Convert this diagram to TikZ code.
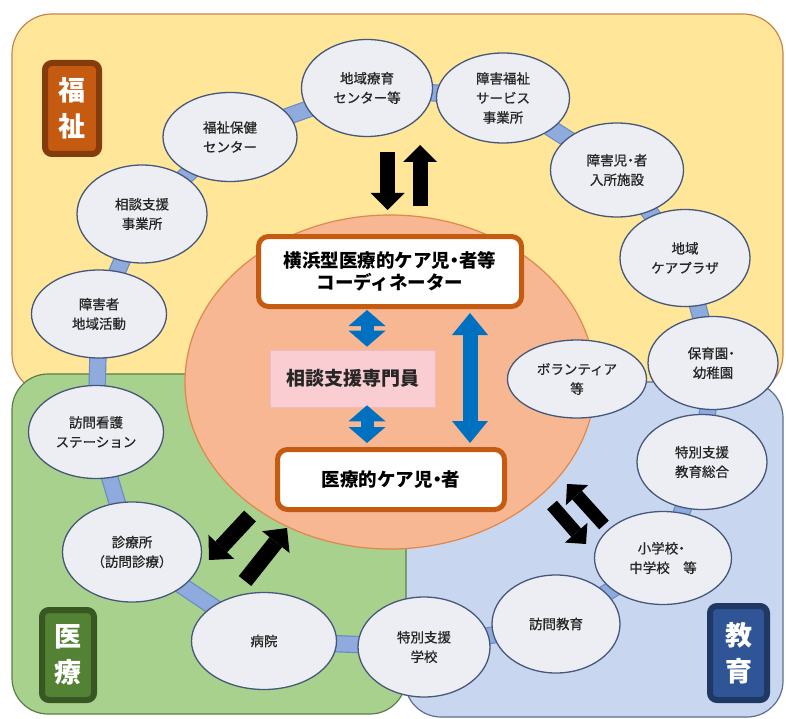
\documentclass[tikz,border=0pt]{standalone}
\usepackage{fontspec}
\newfontfamily\jp{Noto Sans CJK JP}
\newfontfamily\jpm[FakeBold=0.7]{Noto Sans CJK JP}
\usetikzlibrary{shapes.geometric,arrows.meta}
\definecolor{yfill}{HTML}{FFE699}
\definecolor{ydraw}{HTML}{C8844A}
\definecolor{gfill}{HTML}{A9D18E}
\definecolor{gdraw}{HTML}{5A7F45}
\definecolor{bfill}{HTML}{C8D7EF}
\definecolor{bdraw}{HTML}{5B6F8F}
\definecolor{ofill}{HTML}{F8B793}
\definecolor{odraw}{HTML}{E0874C}
\definecolor{ellfill}{HTML}{EDEEF3}
\definecolor{elldraw}{HTML}{46587A}
\definecolor{barfill}{HTML}{8FAADC}
\definecolor{bardraw}{HTML}{6A8BC8}
\definecolor{boxdraw}{HTML}{C55A11}
\definecolor{pinkfill}{HTML}{F9CDD2}
\definecolor{pinkdraw}{HTML}{F2B8BF}
\definecolor{barrow}{HTML}{0070C0}
\definecolor{elltext}{HTML}{262626}
\definecolor{fkout}{HTML}{843C0C}
\definecolor{fkin}{HTML}{C55A11}
\definecolor{iryout}{HTML}{385723}
\definecolor{iryin}{HTML}{548235}
\definecolor{kyout}{HTML}{203864}
\definecolor{kyin}{HTML}{2F5597}
\newcommand\nd{\kern-0.25em・\kern-0.25em}
\newcommand\ndr{\kern-0.25em・}
\pgfdeclarelayer{bg}
\pgfdeclarelayer{bars}
\pgfsetlayers{bg,bars,main}
\begin{document}
\begin{tikzpicture}[x=1pt,y=-1pt,
  ell/.style={ellipse,draw=elldraw,fill=ellfill,line width=1.3pt,inner sep=0pt,align=center,
    text=elltext,font=\jpm\fontsize{13.5}{19.5}\selectfont},
  bar/.style={draw=bardraw,line width=1.2pt,double=barfill,double distance=15pt},
  mainbox/.style={draw=boxdraw,line width=5pt,fill=white,rounded corners=10pt,align=center,
    inner sep=0pt,text=black,font=\jp\bfseries\fontsize{18.5}{22.5}\selectfont},
  tag/.style={rounded corners=7pt,line width=6pt,align=center,text=white,inner sep=0pt,
    font=\jp\bfseries\fontsize{27}{36}\selectfont},
  bdarrow/.style={barrow,line width=13pt,{Triangle[width=37pt,length=16pt,line width=0pt]}-{Triangle[width=37pt,length=16pt,line width=0pt]}},
  blongarrow/.style={barrow,line width=15pt,{Triangle[width=36pt,length=22pt,line width=0pt]}-{Triangle[width=36pt,length=22pt,line width=0pt]}},
  karrow/.style={black,line width=15pt,-{Triangle[width=34pt,length=17pt,line width=0pt]}},
  karrowb/.style={black,line width=16pt,-{Triangle[width=35pt,length=18pt,line width=0pt]}},
  karrows/.style={black,line width=13pt,-{Triangle[width=30pt,length=15pt,line width=0pt]}}
]
\useasboundingbox (0,0) rectangle (786,719);
\begin{pgfonlayer}{bg}
\fill[white] (0,0) rectangle (786,719);
\draw[fill=yfill,draw=ydraw,line width=1.2pt,rounded corners=40pt] (12,14) rectangle (783,394);
\draw[fill=bfill,draw=bdraw,line width=1.2pt,rounded corners=36pt] (405,382) rectangle (783,717);
\draw[fill=gfill,draw=gdraw,line width=1.2pt,rounded corners=36pt] (12,374) rectangle (406,714);
\draw[fill=ofill,draw=odraw,line width=1.2pt] (390,382) ellipse [x radius=205, y radius=167];
\end{pgfonlayer}

% ellipses
\node[ell,minimum width=131pt,minimum height=97pt] (e1) at (367,88) {地域療育\\センター等};
\node[ell,minimum width=134pt,minimum height=89pt] (e2) at (230,137) {福祉保健\\センター};
\node[ell,minimum width=130pt,minimum height=98pt] (e3) at (142,214) {相談支援\\事業所};
\node[ell,minimum width=135pt,minimum height=88pt] (e4) at (99,314) {障害者\\地域活動};
\node[ell,minimum width=133pt,minimum height=90pt] (e5) at (503,98) {障害福祉\\サービス\\事業所};
\node[ell,minimum width=133pt,minimum height=94pt] (e6) at (617,170) {障害児\nd 者\\入所施設};
\node[ell,minimum width=130pt,minimum height=97pt] (e7) at (685,258) {地域\\ケアプラザ};
\node[ell,minimum width=130pt,minimum height=93pt] (e8) at (713,363) {保育園\ndr\\幼稚園};
\node[ell,minimum width=139pt,minimum height=78pt] (e9) at (577,379) {ボランティア\\等};
\node[ell,minimum width=130pt,minimum height=95pt] (e10) at (702,462) {特別支援\\教育総合};
\node[ell,minimum width=137pt,minimum height=93pt] (e11) at (663,558) {小学校\ndr\\中学校\quad 等};
\node[ell,minimum width=128pt,minimum height=98pt] (e12) at (556,624) {訪問教育};
\node[ell,minimum width=132pt,minimum height=100pt] (e13) at (424,647) {特別支援\\学校};
\node[ell,minimum width=145pt,minimum height=97pt] (e14) at (264,641) {病院};
\node[ell,minimum width=139pt,minimum height=100pt] (e15) at (132,552) {診療所\\（訪問診療）};
\node[ell,minimum width=135pt,minimum height=93pt] (e16) at (96,432) {訪問看護\\ステーション};

\begin{pgfonlayer}{bars}
\foreach \a/\b in {e4/e3,e3/e2,e2/e1,e1/e5,e5/e6,e6/e7,e7/e8,e8/e10,e10/e11,e11/e12,e12/e13,e13/e14,e14/e15,e15/e16,e16/e4}
  \draw[bar] (\a.center) -- (\b.center);
\end{pgfonlayer}

% central boxes
\node[mainbox,minimum width=263pt,minimum height=70pt] (coord) at (390,271.5) {横浜型医療的ケア児\nd 者等\\コーディネーター};
\node[fill=pinkfill,draw=pinkdraw,line width=0.6pt,minimum width=165pt,minimum height=57pt,inner sep=0pt,
  font=\jp\bfseries\fontsize{19}{22}\selectfont,text=elltext] (cs) at (352.5,378.5) {相談支援専門員};
\node[mainbox,minimum width=227pt,minimum height=60pt] (pat) at (391,479.5) {医療的ケア児\nd 者};

% blue arrows
\coordinate (xa) at (367,0);
\coordinate (xb) at (470,0);
\draw[bdarrow,shorten <=1pt,shorten >=3pt] (coord.south -| xa) -- (cs.north -| xa);
\draw[bdarrow,shorten <=-2pt,shorten >=4pt] (cs.south -| xa) -- (pat.north -| xa);
\draw[blongarrow,shorten <=4pt,shorten >=4pt] (coord.south -| xb) -- (pat.north -| xb);

% black arrows
\coordinate (t1a) at (387.5,152); \coordinate (t1b) at (387.5,210);
\coordinate (t2a) at (420,206);   \coordinate (t2b) at (420,145);
\draw[karrow] (t1a) -- (t1b);
\draw[karrow] (t2a) -- (t2b);
\coordinate (l1a) at (250,516); \coordinate (l1b) at (209,560);
\coordinate (l2a) at (245,581); \coordinate (l2b) at (287,528);
\draw[karrowb] (l1a) -- (l1b);
\draw[karrowb] (l2a) -- (l2b);
\coordinate (r1a) at (604,525); \coordinate (r1b) at (567,484);
\coordinate (r2a) at (552,505); \coordinate (r2b) at (586,544);
\draw[karrows] (r1a) -- (r1b);
\draw[karrows] (r2a) -- (r2b);

% tags
\node[tag,draw=fkout,fill=fkin,minimum width=54pt,minimum height=91pt] (tfk) at (72,108.5) {福\\祉};
\node[tag,draw=iryout,fill=iryin,minimum width=52pt,minimum height=90pt] (tir) at (68,655) {医\\療};
\node[tag,draw=kyout,fill=kyin,minimum width=57pt,minimum height=94pt] (tky) at (738.5,653) {教\\育};
\end{tikzpicture}
\end{document}
